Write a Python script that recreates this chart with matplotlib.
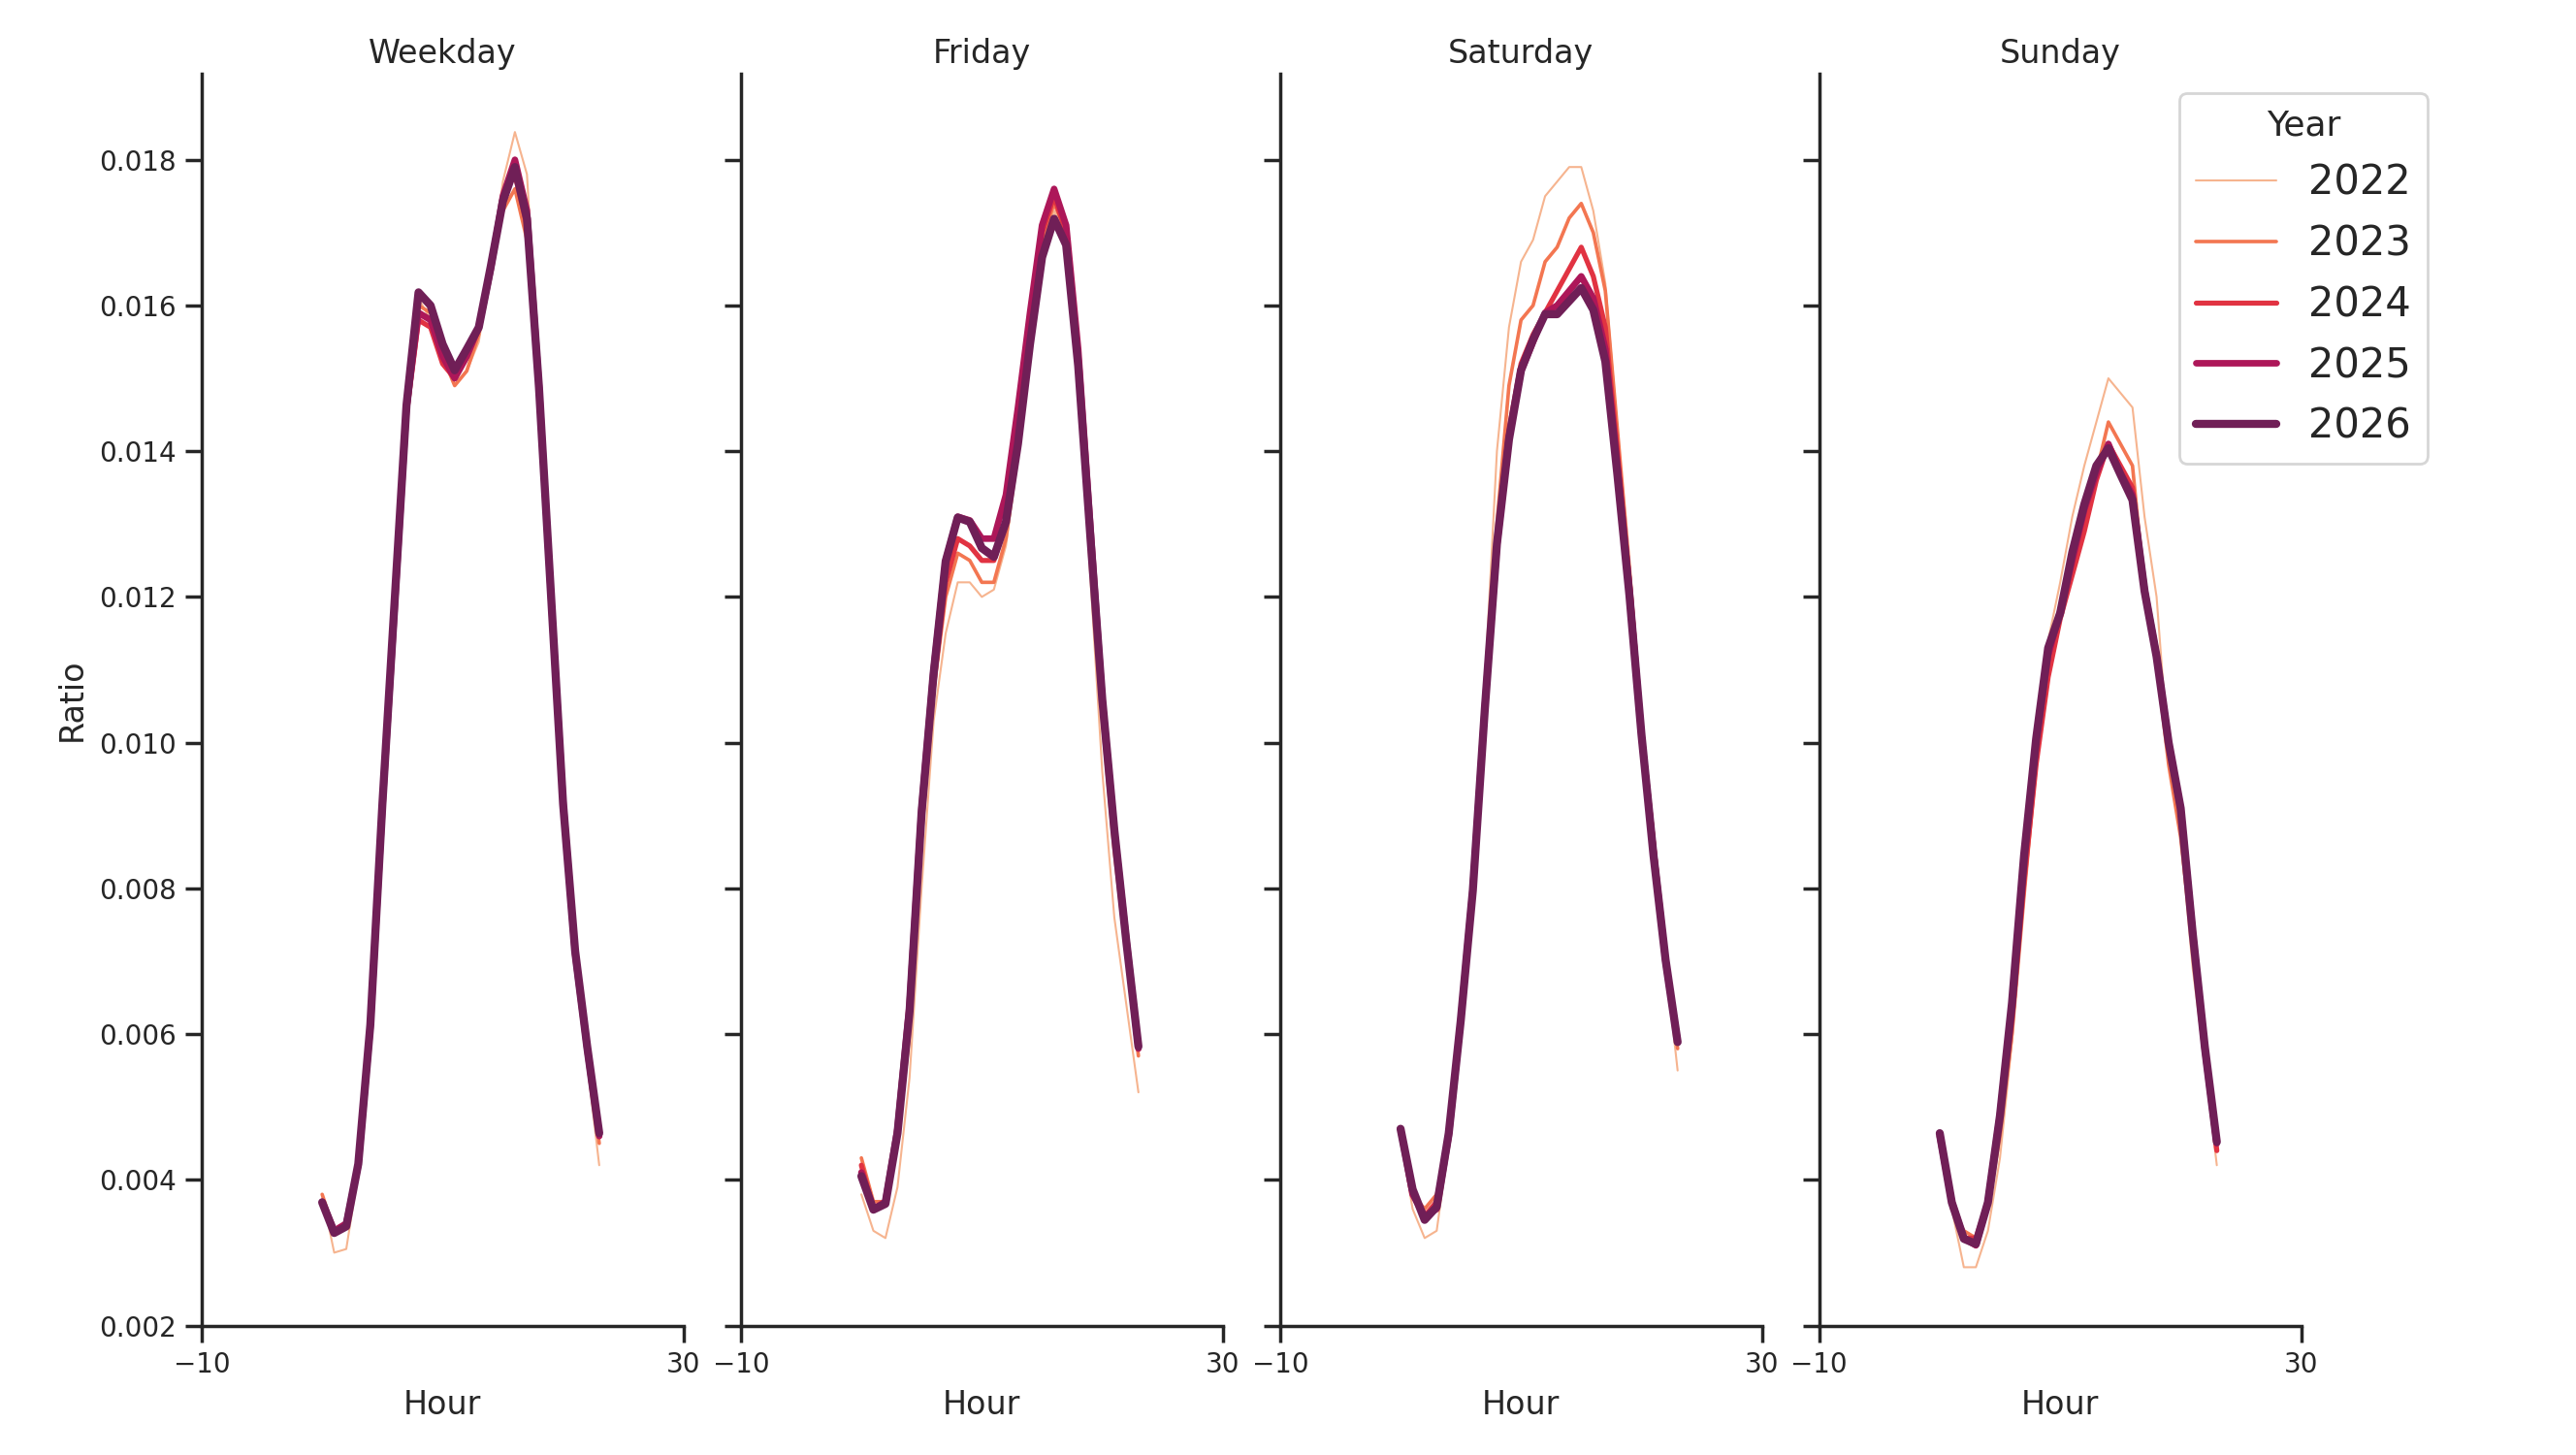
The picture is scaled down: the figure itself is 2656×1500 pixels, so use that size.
import matplotlib
matplotlib.use("Agg")
import matplotlib.pyplot as plt
import seaborn as sns

hours = list(range(24))
years = ["2022", "2023", "2024", "2025", "2026"]
panels = ["Weekday", "Friday", "Saturday", "Sunday"]

weekday_2022 = [0.0038,0.0030,0.00305,0.0041,0.0060,0.0090,0.0118,0.0146,0.0161,0.0158,0.0153,0.0149,0.0151,0.0155,0.0165,0.0177,0.01838,0.0178,0.0150,0.0120,0.0091,0.0070,0.0056,0.0042]
weekday_2023 = [0.0038,0.0033,0.0034,0.0042,0.0061,0.0090,0.0118,0.0145,0.0160,0.0159,0.0153,0.0149,0.0151,0.0156,0.0166,0.0173,0.0176,0.0169,0.0147,0.0119,0.0091,0.0071,0.0057,0.0045]
weekday_2024 = [0.0037,0.0033,0.0034,0.0042,0.0061,0.0091,0.0118,0.0145,0.0158,0.0157,0.0152,0.0150,0.0153,0.0157,0.0166,0.0175,0.0178,0.0171,0.0148,0.0120,0.0092,0.0071,0.0058,0.0046]
weekday_2025 = [0.0037,0.0033,0.0034,0.0042,0.0061,0.0091,0.0118,0.0146,0.0159,0.0158,0.0153,0.0150,0.0153,0.0157,0.0165,0.0175,0.0180,0.0173,0.0149,0.0120,0.0092,0.0071,0.0058,0.0046]
weekday_2026 = [0.00369,0.00327,0.00336,0.00422,0.00613,0.00916,0.0119,0.01463,0.01618,0.0160,0.01547,0.01511,0.0154,0.0157,0.01654,0.01743,0.0179,0.01719,0.01487,0.01202,0.00916,0.00714,0.00583,0.00464]

friday_2022 = [0.0038,0.0033,0.0032,0.0039,0.0054,0.0080,0.0103,0.0115,0.0122,0.0122,0.0120,0.0121,0.0127,0.0139,0.0155,0.0168,0.0173,0.0169,0.0150,0.0123,0.0096,0.0076,0.0064,0.0052]
friday_2023 = [0.0043,0.0037,0.0037,0.0045,0.0060,0.0087,0.0107,0.0120,0.0126,0.0125,0.0122,0.0122,0.0128,0.0140,0.0155,0.0169,0.0174,0.0170,0.0152,0.0128,0.0103,0.0085,0.0071,0.0057]
friday_2024 = [0.0042,0.0036,0.0037,0.0046,0.0063,0.0089,0.0108,0.0122,0.0128,0.0127,0.0125,0.0125,0.0130,0.0143,0.0157,0.0170,0.0175,0.0170,0.0153,0.0129,0.0105,0.0087,0.0072,0.0058]
friday_2025 = [0.0041,0.0036,0.0037,0.0047,0.0064,0.0091,0.0110,0.0125,0.0131,0.01305,0.0128,0.0128,0.0134,0.0146,0.0159,0.0171,0.0176,0.0171,0.0154,0.0130,0.0106,0.0088,0.0073,0.0058]
friday_2026 = [0.00405,0.00359,0.00367,0.00464,0.00631,0.00904,0.01095,0.01249,0.01309,0.01303,0.01267,0.01255,0.01303,0.0141,0.01547,0.01666,0.01719,0.01683,0.01517,0.01285,0.01059,0.0088,0.00726,0.00583]

saturday_2022 = [0.0046,0.0036,0.0032,0.0033,0.0045,0.0062,0.0080,0.0108,0.0140,0.0157,0.0166,0.0169,0.0175,0.0177,0.0179,0.0179,0.0173,0.0163,0.0143,0.0123,0.0102,0.0086,0.0070,0.0055]
saturday_2023 = [0.0047,0.0038,0.0036,0.0038,0.0046,0.0062,0.0080,0.0107,0.0130,0.0149,0.0158,0.0160,0.0166,0.0168,0.0172,0.0174,0.0170,0.0162,0.0143,0.0124,0.0103,0.0087,0.0071,0.0058]
saturday_2024 = [0.0047,0.0038,0.0035,0.0037,0.0046,0.0062,0.0080,0.0105,0.0128,0.0143,0.0152,0.0156,0.0159,0.0162,0.0165,0.0168,0.0164,0.0157,0.0140,0.0122,0.0102,0.0086,0.0071,0.0059]
saturday_2025 = [0.0047,0.0038,0.0035,0.0036,0.0046,0.0062,0.0080,0.0105,0.0127,0.0142,0.0151,0.0155,0.0159,0.0160,0.0162,0.0164,0.0161,0.0154,0.0138,0.0121,0.0101,0.0085,0.0070,0.0059]
saturday_2026 = [0.0047,0.00387,0.00345,0.00363,0.00464,0.00619,0.00797,0.01047,0.01273,0.01416,0.01511,0.01553,0.01588,0.01588,0.01606,0.01624,0.01594,0.01523,0.01368,0.01202,0.01011,0.00845,0.00702,0.00589]

sunday_2022 = [0.0046,0.0036,0.0028,0.0028,0.0033,0.0043,0.0059,0.0080,0.0100,0.0114,0.0122,0.0131,0.0138,0.0144,0.0150,0.0148,0.0146,0.0131,0.0120,0.0098,0.0087,0.0069,0.0056,0.0042]
sunday_2023 = [0.0046,0.0036,0.0033,0.0032,0.0036,0.0046,0.0060,0.0079,0.0097,0.0109,0.0117,0.0124,0.0131,0.0137,0.0144,0.0141,0.0138,0.0121,0.0111,0.0097,0.0087,0.0072,0.0059,0.0046]
sunday_2024 = [0.0046,0.0037,0.0032,0.0032,0.0037,0.0048,0.0062,0.0081,0.0097,0.0109,0.0117,0.0123,0.0129,0.0136,0.0141,0.0138,0.0135,0.0121,0.0112,0.0100,0.0090,0.0073,0.0058,0.0044]
sunday_2025 = [0.0046,0.0037,0.0032,0.0031,0.0037,0.0049,0.0064,0.0084,0.0100,0.0112,0.0118,0.0125,0.0132,0.0137,0.0141,0.0137,0.0134,0.0121,0.0112,0.0100,0.0091,0.0074,0.0058,0.0045]
sunday_2026 = [0.00464,0.00369,0.00319,0.00312,0.00369,0.00488,0.00643,0.00845,0.01005,0.0113,0.01178,0.01261,0.01327,0.0138,0.01404,0.01368,0.01333,0.01208,0.01118,0.0100,0.0091,0.00738,0.00583,0.00452]

data = {
    "Weekday": [weekday_2022, weekday_2023, weekday_2024, weekday_2025, weekday_2026],
    "Friday": [friday_2022, friday_2023, friday_2024, friday_2025, friday_2026],
    "Saturday": [saturday_2022, saturday_2023, saturday_2024, saturday_2025, saturday_2026],
    "Sunday": [sunday_2022, sunday_2023, sunday_2024, sunday_2025, sunday_2026],
}

colors = ["#f6b48f", "#f37651", "#e13342", "#ad1759", "#701f57"]
widths = [0.75, 1.3125, 1.875, 2.4375, 3.0]

sns.set_theme(style="ticks", context="notebook")
plt.rcParams["font.family"] = ["DejaVu Sans"]

fig, axes = plt.subplots(1, 4, sharey=True, figsize=(13.28, 7.5), dpi=200)
fig.subplots_adjust(left=0.0783, right=0.8933, bottom=0.089, top=0.9493, wspace=0.119)

handles = []
for ax, name in zip(axes, panels):
    for yr, vals, c, w in zip(years, data[name], colors, widths):
        ln, = ax.plot(hours, vals, color=c, lw=w, label=yr, solid_capstyle="round", solid_joinstyle="round")
        if name == "Weekday":
            handles.append(ln)
    ax.set_title(name, fontsize=12, pad=4)
    ax.set_xlabel("Hour", fontsize=12)
    ax.set_xlim(-10, 30)
    ax.set_xticks([-10, 30])
    ax.tick_params(axis="both", labelsize=10)
    sns.despine(ax=ax)

axes[0].set_ylim(0.002, 0.01918)
axes[0].set_yticks([0.002, 0.004, 0.006, 0.008, 0.010, 0.012, 0.014, 0.016, 0.018])
axes[0].set_ylabel("Ratio", fontsize=12)

fig.legend(handles, years, title="Year", loc="upper left", bbox_to_anchor=(0.846, 0.936),
           borderaxespad=0, fontsize=15, title_fontsize=13, frameon=True)

fig.savefig("out.png", dpi=200)
